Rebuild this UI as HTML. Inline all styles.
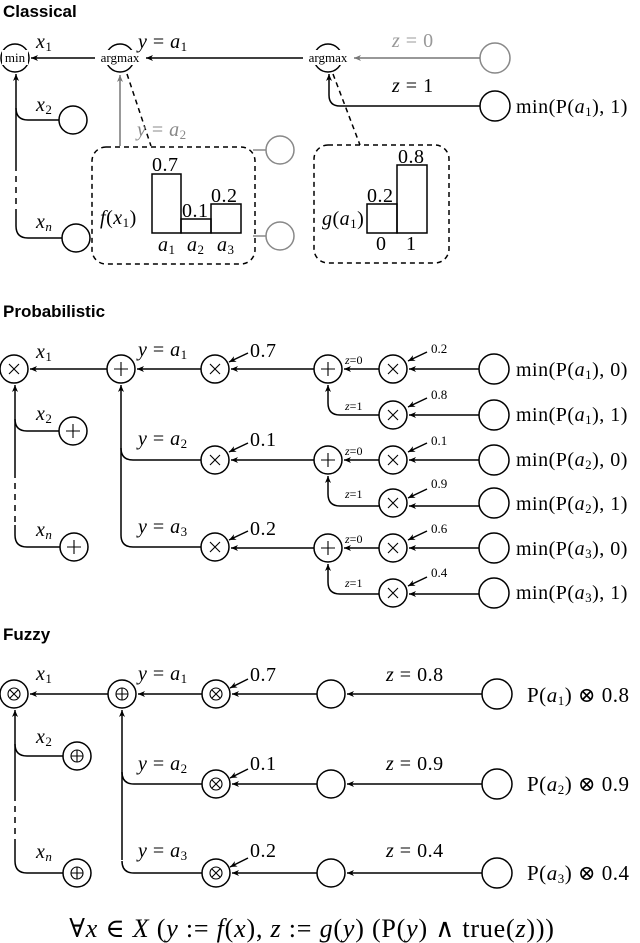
<!DOCTYPE html>
<html><head><meta charset="utf-8"><style>
html,body{margin:0;padding:0;background:#fff;}
svg{display:block;}
.m{font-family:"Liberation Serif","DejaVu Serif",serif;}
.it{font-style:italic;}
.t{font-family:"Liberation Sans",sans-serif;font-weight:bold;font-size:17px;}
</style></head><body>
<svg width="640" height="943" viewBox="0 0 640 943" xmlns="http://www.w3.org/2000/svg">
<defs>
<marker id="a" markerWidth="8" markerHeight="8" refX="7" refY="4" orient="auto" markerUnits="userSpaceOnUse"><path d="M0,1 L7,4 L0,7 L2,4 Z" fill="#000"/></marker>
<marker id="g" markerWidth="8" markerHeight="8" refX="7" refY="4" orient="auto" markerUnits="userSpaceOnUse"><path d="M0,1 L7,4 L0,7 L2,4 Z" fill="#777"/></marker>
</defs>
<g fill="none" stroke="#000" stroke-width="1.5">
<!-- ===== Classical ===== -->
<circle cx="15" cy="58" r="14"/>
<circle cx="120" cy="58" r="14"/>
<circle cx="328" cy="58" r="14"/>
<line x1="98" y1="58" x2="31" y2="58" marker-end="url(#a)"/>
<line x1="304" y1="58" x2="146" y2="58" marker-end="url(#a)"/>
<circle cx="495" cy="58" r="15" stroke="#888"/>
<line x1="480" y1="58" x2="354" y2="58" stroke="#777" marker-end="url(#g)"/>
<circle cx="495" cy="106" r="15"/>
<path d="M480,106 H340 Q329,106 329,95 V74" marker-end="url(#a)"/>
<circle cx="73" cy="120" r="14"/>
<circle cx="76" cy="238" r="14"/>
<path d="M59,120 H28 Q16,120 16,108"/>
<path d="M16,165 V74" marker-end="url(#a)"/>
<path d="M16,165 V215" stroke-dasharray="6,5"/>
<path d="M62,238 H28 Q16,238 16,226 V215"/>
<line x1="120" y1="146" x2="120" y2="75" stroke="#777" marker-end="url(#g)"/>
<line x1="127" y1="74" x2="151" y2="146" stroke-dasharray="5,4"/>
<rect x="92" y="147" width="163" height="117" rx="14" stroke-dasharray="5,4"/>
<rect x="152" y="174" width="29" height="59"/>
<rect x="181" y="219" width="30" height="14"/>
<rect x="211" y="204" width="30" height="29"/>
<circle cx="280" cy="150" r="14" stroke="#888"/>
<circle cx="280" cy="236" r="14" stroke="#888"/>
<line x1="253" y1="150" x2="266" y2="150" stroke="#888"/>
<line x1="253" y1="236" x2="266" y2="236" stroke="#888"/>
<line x1="333" y1="74" x2="360" y2="145" stroke-dasharray="5,4"/>
<rect x="314" y="145" width="135" height="118" rx="14" stroke-dasharray="5,4"/>
<rect x="367" y="204" width="30" height="29"/>
<rect x="397" y="165" width="30" height="68"/>

<!-- ===== Probabilistic ===== -->
<circle cx="14" cy="369" r="14"/>
<circle cx="121" cy="369" r="14"/>
<circle cx="215" cy="369" r="14"/>
<circle cx="328" cy="369" r="14"/>
<circle cx="393" cy="369" r="14"/>
<circle cx="494" cy="369" r="15"/>
<circle cx="393" cy="415" r="14"/>
<circle cx="494" cy="415" r="15"/>
<circle cx="215" cy="460" r="14"/>
<circle cx="328" cy="460" r="14"/>
<circle cx="393" cy="460" r="14"/>
<circle cx="494" cy="460" r="15"/>
<circle cx="393" cy="503" r="14"/>
<circle cx="494" cy="503" r="15"/>
<circle cx="215" cy="547" r="14"/>
<circle cx="328" cy="548" r="14"/>
<circle cx="393" cy="548" r="14"/>
<circle cx="494" cy="548" r="15"/>
<circle cx="393" cy="593" r="14"/>
<circle cx="494" cy="593" r="15"/>
<circle cx="73" cy="431" r="14"/>
<circle cx="74" cy="547" r="14"/>
<line x1="107" y1="369" x2="30" y2="369" marker-end="url(#a)"/>
<line x1="201" y1="369" x2="137" y2="369" marker-end="url(#a)"/>
<line x1="314" y1="369" x2="231" y2="369" marker-end="url(#a)"/>
<line x1="314" y1="460" x2="231" y2="460" marker-end="url(#a)"/>
<line x1="314" y1="548" x2="231" y2="548" marker-end="url(#a)"/>
<path d="M59,431 H27 Q15,431 15,419"/>
<path d="M15,472 V385" marker-end="url(#a)"/>
<path d="M15,472 V525" stroke-dasharray="6,5"/>
<path d="M60,547 H27 Q15,547 15,535 V525"/>
<path d="M121,535 V385" marker-end="url(#a)"/>
<path d="M201,460 H133 Q121,460 121,448"/>
<path d="M201,547 H133 Q121,547 121,535"/>
<g id="pr">
<line x1="379" y1="369" x2="344" y2="369" marker-end="url(#a)"/>
<line x1="479" y1="369" x2="409" y2="369" marker-end="url(#a)"/>
<line x1="479" y1="415" x2="409" y2="415" marker-end="url(#a)"/>
<path d="M379,415 H340 Q328,415 328,403 V385" marker-end="url(#a)"/>
<line x1="427" y1="352" x2="408" y2="361" marker-end="url(#a)"/>
<line x1="427" y1="398" x2="408" y2="407" marker-end="url(#a)"/>
</g>
<use href="#pr" transform="translate(0,91)"/>
<use href="#pr" transform="translate(0,179)"/>
<line x1="248" y1="353" x2="229" y2="362" marker-end="url(#a)"/>
<line x1="248" y1="443" x2="229" y2="452" marker-end="url(#a)"/>
<line x1="248" y1="531" x2="229" y2="540" marker-end="url(#a)"/>

<!-- ===== Fuzzy ===== -->
<circle cx="14" cy="694" r="14"/>
<circle cx="122" cy="694" r="14"/>
<circle cx="77" cy="756" r="14"/>
<circle cx="77" cy="873" r="14"/>
<line x1="108" y1="694" x2="30" y2="694" marker-end="url(#a)"/>
<path d="M63,756 H27 Q15,756 15,744"/>
<path d="M15,795 V710" marker-end="url(#a)"/>
<path d="M15,795 V840" stroke-dasharray="6,5"/>
<path d="M63,873 H27 Q15,873 15,861 V840"/>
<path d="M122,860 V710" marker-end="url(#a)"/>
<g id="fr">
<circle cx="216" cy="694" r="14"/>
<circle cx="331" cy="694" r="14"/>
<circle cx="497" cy="694" r="15"/>
<line x1="482" y1="694" x2="347" y2="694" marker-end="url(#a)"/>
<line x1="317" y1="694" x2="232" y2="694" marker-end="url(#a)"/>
<line x1="248" y1="679" x2="230" y2="688" marker-end="url(#a)"/>
</g>
<use href="#fr" transform="translate(0,90)"/>
<use href="#fr" transform="translate(0,179)"/>
<line x1="202" y1="694" x2="138" y2="694" marker-end="url(#a)"/>
<path d="M202,784 H134 Q122,784 122,772"/>
<path d="M202,873 H134 Q122,873 122,861"/>
</g>

<!-- symbols inside circles -->
<g stroke="#000" stroke-width="1.1" fill="none">
<path d="M9,364 l10,10 M19,364 l-10,10"/>
<path d="M210,364 l10,10 M220,364 l-10,10"/>
<path d="M210,455 l10,10 M220,455 l-10,10"/>
<path d="M210,542 l10,10 M220,542 l-10,10"/>
<path d="M388,364 l10,10 M398,364 l-10,10"/>
<path d="M388,410 l10,10 M398,410 l-10,10"/>
<path d="M388,455 l10,10 M398,455 l-10,10"/>
<path d="M388,498 l10,10 M398,498 l-10,10"/>
<path d="M388,543 l10,10 M398,543 l-10,10"/>
<path d="M388,588 l10,10 M398,588 l-10,10"/>
<path d="M114,369 h14 M121,362 v14"/>
<path d="M321,369 h14 M328,362 v14"/>
<path d="M321,460 h14 M328,453 v14"/>
<path d="M321,548 h14 M328,541 v14"/>
<path d="M66,431 h14 M73,424 v14"/>
<path d="M67,547 h14 M74,540 v14"/>
<circle cx="14" cy="694" r="6"/><path d="M10,690 l8,8 M18,690 l-8,8"/>
<circle cx="216" cy="694" r="6"/><path d="M212,690 l8,8 M220,690 l-8,8"/>
<circle cx="216" cy="784" r="6"/><path d="M212,780 l8,8 M220,780 l-8,8"/>
<circle cx="216" cy="873" r="6"/><path d="M212,869 l8,8 M220,869 l-8,8"/>
<circle cx="122" cy="694" r="6"/><path d="M116,694 h12 M122,688 v12"/>
<circle cx="77" cy="756" r="6"/><path d="M71,756 h12 M77,750 v12"/>
<circle cx="77" cy="873" r="6"/><path d="M71,873 h12 M77,867 v12"/>
</g>

<!-- text -->
<text class="t" x="3" y="17">Classical</text>
<text class="t" x="3" y="317">Probabilistic</text>
<text class="t" x="3" y="640">Fuzzy</text>
<g class="m" font-size="20" fill="#000" letter-spacing="0.5">
<rect x="95" y="50" width="51" height="15" fill="#fff" stroke="none"/>
<text x="120" y="62" font-size="13" letter-spacing="0" text-anchor="middle">argmax</text>
<rect x="303" y="50" width="51" height="15" fill="#fff" stroke="none"/>
<text x="328" y="62" font-size="13" letter-spacing="0" text-anchor="middle">argmax</text>
<rect x="2" y="50" width="26" height="15" fill="#fff" stroke="none"/>
<text x="15" y="62" font-size="13" letter-spacing="0" text-anchor="middle">min</text>
<text x="36" y="48"><tspan class="it">x</tspan><tspan font-size="13" dy="3">1</tspan></text>
<text x="138" y="48"><tspan class="it">y</tspan> = <tspan class="it">a</tspan><tspan font-size="13" dy="3">1</tspan></text>
<text x="36" y="111"><tspan class="it">x</tspan><tspan font-size="13" dy="3">2</tspan></text>
<text x="36" y="228"><tspan class="it">x</tspan><tspan font-size="13" dy="3" class="it">n</tspan></text>
<text x="137" y="136" fill="#888"><tspan class="it">y</tspan> = <tspan class="it">a</tspan><tspan font-size="13" dy="3">2</tspan></text>
<text x="392" y="47" fill="#999"><tspan class="it">z</tspan> = 0</text>
<text x="392" y="92"><tspan class="it">z</tspan> = 1</text>
<text x="516" y="113">min(P(<tspan class="it">a</tspan><tspan font-size="13" dy="3">1</tspan><tspan dy="-3">), 1)</tspan></text>
<text x="100" y="224"><tspan class="it">f</tspan>(<tspan class="it">x</tspan><tspan font-size="13" dy="3">1</tspan><tspan dy="-3">)</tspan></text>
<text x="152" y="171">0.7</text>
<text x="182" y="217">0.1</text>
<text x="211" y="202">0.2</text>
<text x="158" y="251" class="it">a<tspan font-size="13" dy="3" font-style="normal">1</tspan></text>
<text x="187" y="251" class="it">a<tspan font-size="13" dy="3" font-style="normal">2</tspan></text>
<text x="217" y="251" class="it">a<tspan font-size="13" dy="3" font-style="normal">3</tspan></text>
<text x="322" y="225"><tspan class="it">g</tspan>(<tspan class="it">a</tspan><tspan font-size="13" dy="3">1</tspan><tspan dy="-3">)</tspan></text>
<text x="367" y="202">0.2</text>
<text x="398" y="163">0.8</text>
<text x="376" y="250">0</text>
<text x="406" y="250">1</text>

<text x="36" y="358"><tspan class="it">x</tspan><tspan font-size="13" dy="3">1</tspan></text>
<text x="138" y="356"><tspan class="it">y</tspan> = <tspan class="it">a</tspan><tspan font-size="13" dy="3">1</tspan></text>
<text x="250" y="357">0.7</text>
<text x="36" y="420"><tspan class="it">x</tspan><tspan font-size="13" dy="3">2</tspan></text>
<text x="138" y="445"><tspan class="it">y</tspan> = <tspan class="it">a</tspan><tspan font-size="13" dy="3">2</tspan></text>
<text x="250" y="446">0.1</text>
<text x="36" y="536"><tspan class="it">x</tspan><tspan font-size="13" dy="3" class="it">n</tspan></text>
<text x="138" y="533"><tspan class="it">y</tspan> = <tspan class="it">a</tspan><tspan font-size="13" dy="3">3</tspan></text>
<text x="250" y="535">0.2</text>
<g font-size="12" letter-spacing="0">
<text x="345" y="364"><tspan class="it">z</tspan>=0</text><text x="345" y="410"><tspan class="it">z</tspan>=1</text>
<text x="345" y="455"><tspan class="it">z</tspan>=0</text><text x="345" y="498"><tspan class="it">z</tspan>=1</text>
<text x="345" y="543"><tspan class="it">z</tspan>=0</text><text x="345" y="587"><tspan class="it">z</tspan>=1</text>
</g>
<g font-size="13" letter-spacing="0">
<text x="431" y="353">0.2</text><text x="431" y="399">0.8</text>
<text x="431" y="445">0.1</text><text x="431" y="488">0.9</text>
<text x="431" y="533">0.6</text><text x="431" y="577">0.4</text>
</g>
<text x="516" y="376">min(P(<tspan class="it">a</tspan><tspan font-size="13" dy="3">1</tspan><tspan dy="-3">), 0)</tspan></text>
<text x="516" y="421">min(P(<tspan class="it">a</tspan><tspan font-size="13" dy="3">1</tspan><tspan dy="-3">), 1)</tspan></text>
<text x="516" y="466">min(P(<tspan class="it">a</tspan><tspan font-size="13" dy="3">2</tspan><tspan dy="-3">), 0)</tspan></text>
<text x="516" y="510">min(P(<tspan class="it">a</tspan><tspan font-size="13" dy="3">2</tspan><tspan dy="-3">), 1)</tspan></text>
<text x="516" y="555">min(P(<tspan class="it">a</tspan><tspan font-size="13" dy="3">3</tspan><tspan dy="-3">), 0)</tspan></text>
<text x="516" y="599">min(P(<tspan class="it">a</tspan><tspan font-size="13" dy="3">3</tspan><tspan dy="-3">), 1)</tspan></text>

<text x="36" y="680"><tspan class="it">x</tspan><tspan font-size="13" dy="3">1</tspan></text>
<text x="138" y="680"><tspan class="it">y</tspan> = <tspan class="it">a</tspan><tspan font-size="13" dy="3">1</tspan></text>
<text x="250" y="681">0.7</text>
<text x="386" y="681"><tspan class="it">z</tspan> = 0.8</text>
<text x="36" y="743"><tspan class="it">x</tspan><tspan font-size="13" dy="3">2</tspan></text>
<text x="138" y="770"><tspan class="it">y</tspan> = <tspan class="it">a</tspan><tspan font-size="13" dy="3">2</tspan></text>
<text x="250" y="770">0.1</text>
<text x="386" y="770"><tspan class="it">z</tspan> = 0.9</text>
<text x="36" y="858"><tspan class="it">x</tspan><tspan font-size="13" dy="3" class="it">n</tspan></text>
<text x="138" y="857"><tspan class="it">y</tspan> = <tspan class="it">a</tspan><tspan font-size="13" dy="3">3</tspan></text>
<text x="250" y="857">0.2</text>
<text x="386" y="857"><tspan class="it">z</tspan> = 0.4</text>
<text x="527" y="702" font-size="21">P(<tspan class="it">a</tspan><tspan font-size="13" dy="3">1</tspan><tspan dy="-3">) ⊗ 0.8</tspan></text>
<text x="527" y="791" font-size="21">P(<tspan class="it">a</tspan><tspan font-size="13" dy="3">2</tspan><tspan dy="-3">) ⊗ 0.9</tspan></text>
<text x="527" y="880" font-size="21">P(<tspan class="it">a</tspan><tspan font-size="13" dy="3">3</tspan><tspan dy="-3">) ⊗ 0.4</tspan></text>

<text x="312" y="937" font-size="26" letter-spacing="0.8" text-anchor="middle">∀<tspan class="it">x</tspan> ∈ <tspan class="it">X</tspan> (<tspan class="it">y</tspan> := <tspan class="it">f</tspan>(<tspan class="it">x</tspan>), <tspan class="it">z</tspan> := <tspan class="it">g</tspan>(<tspan class="it">y</tspan>) (P(<tspan class="it">y</tspan>) ∧ true(<tspan class="it">z</tspan>)))</text>
</g>
</svg>
</body></html>
